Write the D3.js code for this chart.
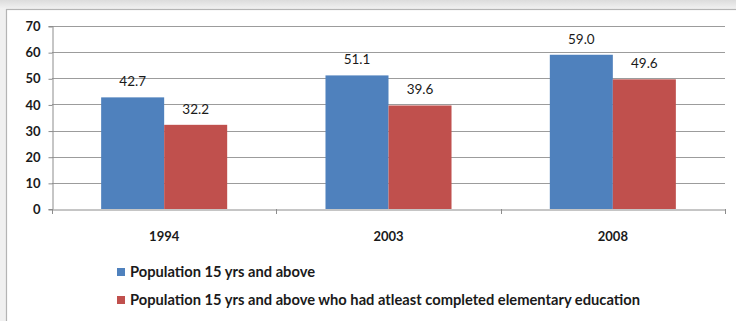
<!DOCTYPE html>
<html>
<head>
<meta charset="utf-8">
<script src="https://cdn.jsdelivr.net/npm/d3@7"></script>
<style>
  html, body { margin: 0; padding: 0; background: #ffffff; }
  svg { display: block; }
</style>
</head>
<body>
<svg id="chart" width="736" height="321"></svg>
<script>
// Chart data
const years = ["1994", "2003", "2008"];
const seriesNames = [
  "Population 15 yrs and above",
  "Population 15 yrs and above who had atleast completed elementary education"
];
const population15 = [42.7, 51.1, 59.0];
const completedElementary = [32.2, 39.6, 49.6];
const yTicks = [0, 10, 20, 30, 40, 50, 60, 70];
const seriesColors = ["#4f81bd", "#c0504d"];

const seriesValues = [population15, completedElementary];
const rows = years.map((y, i) => ({ year: y, values: seriesValues.map(s => s[i]) }));

const svg = d3.select("#chart");
const W = 736, H = 321;
const font = "Lato, 'Open Sans', sans-serif";

// Window chrome: grey band at the top and left edge, then the white chart frame
const defs = svg.append("defs");
const grad = defs.append("linearGradient").attr("id", "topShade")
  .attr("x1", 0).attr("y1", 0).attr("x2", 0).attr("y2", 1);
grad.append("stop").attr("offset", "0%").attr("stop-color", "#dcdcdc");
grad.append("stop").attr("offset", "100%").attr("stop-color", "#f2f2f2");
svg.append("rect").attr("x", 0).attr("y", 0).attr("width", W).attr("height", H).attr("fill", "#f0f0f0");
svg.append("rect").attr("x", 0).attr("y", 0).attr("width", W).attr("height", 9).attr("fill", "url(#topShade)");
svg.append("rect").attr("x", 6.5).attr("y", 9.5).attr("width", W).attr("height", H)
  .attr("fill", "#ffffff").attr("stroke", "#b4b4b4").attr("stroke-width", 1.2);

const margin = { left: 52, right: 11, top: 26, bottom: 112 };
const x0 = d3.scaleBand().domain(years).range([margin.left, W - margin.right]).paddingInner(0).paddingOuter(0);
const x1 = d3.scaleBand().domain(d3.range(seriesNames.length))
  .range([0, x0.bandwidth()]).paddingInner(0).paddingOuter(0.78);
const y = d3.scaleLinear().domain([0, 70]).range([H - margin.bottom, margin.top]);

// Horizontal gridlines
svg.append("g").selectAll("line").data(yTicks.filter(t => t > 0)).join("line")
  .attr("x1", margin.left).attr("x2", W - margin.right)
  .attr("y1", d => Math.round(y(d)) + 0.5).attr("y2", d => Math.round(y(d)) + 0.5)
  .attr("stroke", "#9c9c9c").attr("stroke-width", 1);

// Value axis
const yAxis = svg.append("g").attr("transform", `translate(${margin.left + 0.5},0)`)
  .call(d3.axisLeft(y).tickValues(yTicks).tickSize(4).tickPadding(8).tickFormat(d3.format("d")));
yAxis.select(".domain").attr("stroke", "#8c8c8c");
yAxis.selectAll(".tick line").attr("stroke", "#8c8c8c").attr("transform", "translate(0,0.5)");
yAxis.selectAll("text").attr("font-family", font).attr("font-size", 13).attr("font-weight", 700)
  .attr("fill", "#1a1a1a").attr("dy", "0.36em");

// Bars
const groups = svg.append("g").selectAll("g").data(rows).join("g")
  .attr("transform", d => `translate(${x0(d.year)},0)`);
groups.selectAll("rect").data(d => d.values.map((v, i) => ({ v, i }))).join("rect")
  .attr("x", d => x1(d.i))
  .attr("y", d => y(d.v))
  .attr("width", x1.bandwidth())
  .attr("height", d => y(0) - y(d.v))
  .attr("fill", d => seriesColors[d.i]);

// Data labels
groups.selectAll("text").data(d => d.values.map((v, i) => ({ v, i }))).join("text")
  .attr("x", d => x1(d.i) + x1.bandwidth() / 2)
  .attr("y", d => y(d.v) - 11)
  .attr("text-anchor", "middle")
  .attr("font-family", font).attr("font-size", 13.5)
  .attr("fill", "#1a1a1a")
  .text(d => d3.format(".1f")(d.v));

// Category axis
const xAxis = svg.append("g").attr("transform", `translate(0,${Math.round(y(0)) + 0.5})`)
  .call(d3.axisBottom(x0).tickSize(0).tickPadding(22));
xAxis.select(".domain").attr("stroke", "#8c8c8c");
xAxis.selectAll("text").attr("font-family", font).attr("font-size", 13).attr("font-weight", 700)
  .attr("fill", "#1a1a1a");
// Category separators below the axis line
const bounds = years.map(d => x0(d)).concat([x0(years[years.length - 1]) + x0.bandwidth()]);
svg.append("g").selectAll("line").data(bounds).join("line")
  .attr("x1", d => Math.round(d) + 0.5).attr("x2", d => Math.round(d) + 0.5)
  .attr("y1", Math.round(y(0))).attr("y2", Math.round(y(0)) + 5)
  .attr("stroke", "#8c8c8c");

// Legend
const legend = svg.append("g").attr("transform", "translate(117,0)");
const legendRows = [272, 300];
legend.selectAll("rect").data(seriesNames).join("rect")
  .attr("x", 0).attr("y", (d, i) => legendRows[i] - 4)
  .attr("width", 8).attr("height", 8)
  .attr("fill", (d, i) => seriesColors[i]);
legend.selectAll("text").data(seriesNames).join("text")
  .attr("x", 13).attr("y", (d, i) => legendRows[i])
  .attr("dy", "0.36em")
  .attr("font-family", font).attr("font-size", 14.7).attr("font-weight", 700)
  .attr("fill", "#1a1a1a")
  .text(d => d);
</script>
</body>
</html>
